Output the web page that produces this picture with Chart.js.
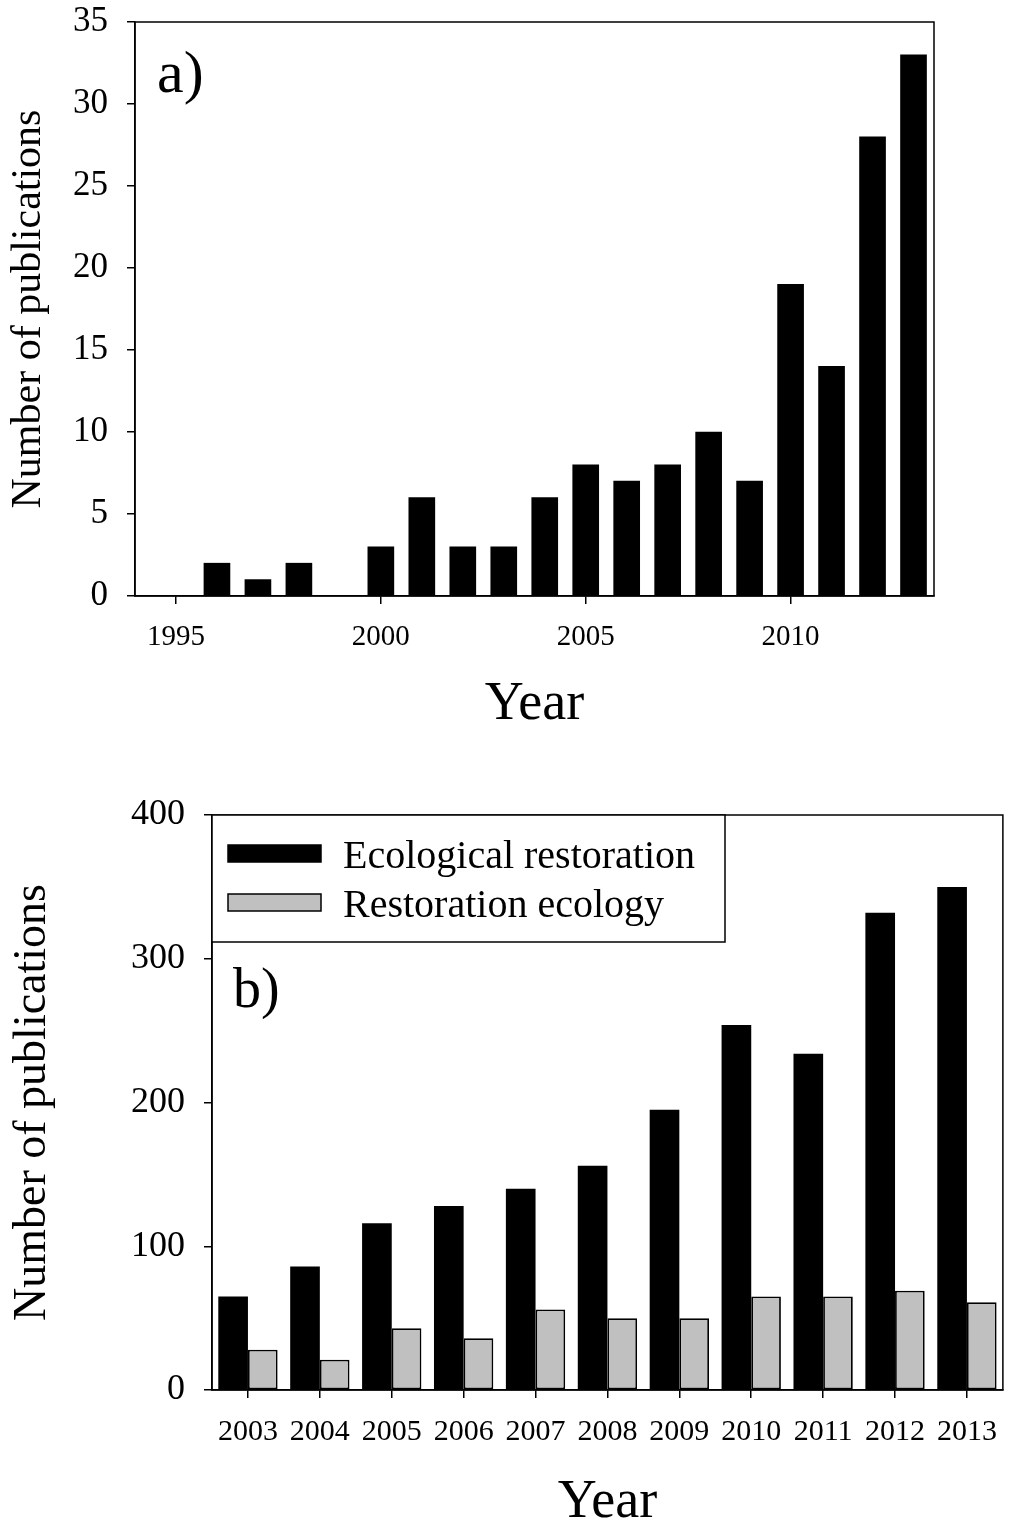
<!DOCTYPE html>
<html>
<head>
<meta charset="utf-8">
<script src="https://cdn.jsdelivr.net/npm/chart.js@4"></script>
<style>
html, body { margin: 0; padding: 0; background: #fff; }
body { width: 1013px; height: 1531px; position: relative; overflow: hidden; }
canvas { position: absolute; left: 0; }
#chartA { top: 0; }
#chartB { top: 755px; }
</style>
</head>
<body>
<canvas id="chartA" width="1013" height="750"></canvas>
<canvas id="chartB" width="1013" height="776"></canvas>
<script>
// panel a) - publications per year
const yearsA = [1995, 1996, 1997, 1998, 1999, 2000, 2001, 2002, 2003, 2004,
                2005, 2006, 2007, 2008, 2009, 2010, 2011, 2012, 2013];
const pubsA = [0, 2, 1, 2, 0, 3, 6, 3, 3, 6, 8, 7, 8, 10, 7, 19, 14, 28, 33];
const yearTicksA = [1995, 2000, 2005, 2010];

// panel b) - two series per year
const yearsB = ['2003', '2004', '2005', '2006', '2007', '2008', '2009', '2010', '2011', '2012', '2013'];
const ecoRestoration = [65, 86, 116, 128, 140, 156, 195, 254, 234, 332, 350];
const restEcology = [28, 21, 43, 36, 56, 50, 50, 65, 65, 69, 61];

const SERIF = '"Liberation Serif", "Times New Roman", serif';
Chart.defaults.color = '#000';
Chart.defaults.font.family = SERIF;

// box around the plot, panel letter and (optionally) the boxed legend
const framePlugin = {
    id: 'frame',
    afterDraw(chart, args, opts) {
        const ctx = chart.ctx;
        const a = chart.chartArea;
        ctx.save();
        ctx.strokeStyle = '#000';
        ctx.lineWidth = 1.5;
        ctx.strokeRect(a.left, a.top, a.right - a.left, a.bottom - a.top);

        ctx.fillStyle = '#000';
        ctx.textBaseline = 'alphabetic';
        ctx.textAlign = 'left';
        ctx.font = opts.panelSize + 'px ' + SERIF;
        ctx.fillText(opts.panel, a.left + opts.panelX, a.top + opts.panelY);

        if (opts.legend) {
            ctx.fillStyle = '#fff';
            ctx.fillRect(a.left, a.top, 513, 127);
            ctx.strokeRect(a.left, a.top, 513, 127);
            ctx.font = '40px ' + SERIF;
            chart.data.datasets.forEach((ds, i) => {
                const y = a.top + 30 + i * 49;
                ctx.fillStyle = ds.backgroundColor;
                ctx.fillRect(a.left + 16, y, 93, 17);
                ctx.strokeRect(a.left + 16, y, 93, 17);
                ctx.fillStyle = '#000';
                ctx.fillText(ds.label, a.left + 131, y + 23);
            });
        }
        ctx.restore();
    }
};

const axisLine = { color: '#000', width: 1.5 };
const tickMarks = { drawOnChartArea: false, offset: false, tickLength: 8, color: '#000', lineWidth: 1.5 };

new Chart(document.getElementById('chartA'), {
    type: 'bar',
    data: {
        datasets: [{
            label: 'Publications',
            data: yearsA.map((yr, i) => ({ x: yr, y: pubsA[i] })),
            backgroundColor: '#000',
            barThickness: 26
        }]
    },
    options: {
        responsive: false,
        animation: false,
        layout: { padding: { top: 22, right: 79, left: 0, bottom: 0 } },
        plugins: {
            legend: { display: false },
            tooltip: { enabled: false },
            frame: { panel: 'a)', panelSize: 60, panelX: 22, panelY: 70, legend: false }
        },
        scales: {
            x: {
                type: 'linear',
                min: 1994,
                max: 2013.5,
                offset: false,
                afterBuildTicks: s => { s.ticks = yearTicksA.map(v => ({ value: v })); },
                ticks: { padding: 16, font: { size: 29 }, callback: v => String(v) },
                grid: tickMarks,
                border: axisLine,
                title: { display: true, text: 'Year', font: { size: 54, lineHeight: 1 }, padding: { top: 0, bottom: 18 } },
                afterFit: s => { s.height = 154; }
            },
            y: {
                min: 0,
                max: 35,
                ticks: { stepSize: 5, padding: 19, font: { size: 35 } },
                grid: tickMarks,
                border: axisLine,
                title: { display: true, text: 'Number of publications', font: { size: 42 }, padding: { top: 4, bottom: 0 } },
                afterFit: s => { s.width = 135; s.paddingTop = 0; s.paddingBottom = 0; }
            }
        }
    },
    plugins: [framePlugin]
});

new Chart(document.getElementById('chartB'), {
    type: 'bar',
    data: {
        labels: yearsB,
        datasets: [{
            label: 'Ecological restoration',
            data: ecoRestoration,
            backgroundColor: '#000',
            borderWidth: 0,
            categoryPercentage: 0.825,
            barPercentage: 1
        }, {
            label: 'Restoration ecology',
            data: restEcology,
            backgroundColor: '#c0c0c0',
            borderColor: '#000',
            borderWidth: 1.8,
            borderSkipped: false,
            categoryPercentage: 0.825,
            barPercentage: 1
        }]
    },
    options: {
        responsive: false,
        animation: false,
        layout: { padding: { top: 60, right: 1.5, left: 0, bottom: 0 } },
        plugins: {
            legend: { display: false },
            tooltip: { enabled: false },
            frame: { panel: 'b)', panelSize: 56, panelX: 21, panelY: 192, legend: true }
        },
        scales: {
            x: {
                offset: true,
                ticks: { padding: 16, font: { size: 30 } },
                grid: tickMarks,
                border: axisLine,
                title: { display: true, text: 'Year', font: { size: 54, lineHeight: 1 }, padding: { top: 0, bottom: 1 } },
                afterFit: s => { s.height = 141; }
            },
            y: {
                min: 0,
                max: 400,
                ticks: { stepSize: 100, padding: 19, font: { size: 36 } },
                grid: tickMarks,
                border: axisLine,
                title: { display: true, text: 'Number of publications', font: { size: 46 }, padding: { top: 5, bottom: 0 } },
                afterFit: s => { s.width = 212; }
            }
        }
    },
    plugins: [framePlugin]
});
</script>
</body>
</html>
